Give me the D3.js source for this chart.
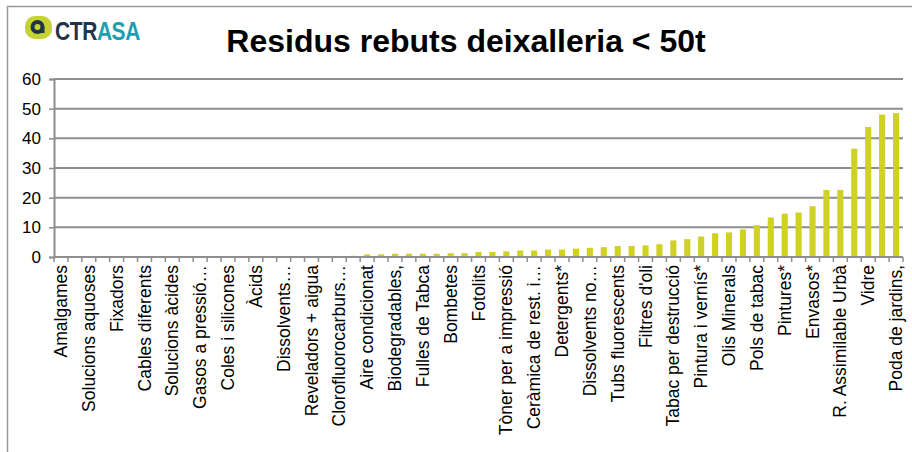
<!DOCTYPE html>
<html>
<head>
<meta charset="utf-8">
<script src="https://cdn.jsdelivr.net/npm/d3@7"></script>
<style>
  body { margin: 0; background: #fff; }
  svg { display: block; font-family: "Liberation Sans", Arial, sans-serif; }
</style>
</head>
<body>
<svg id="chart" width="912" height="452"></svg>
<script>
// === Data ===
var title = "Residus rebuts deixalleria < 50t";

// every second category gets a visible label (like the original)
var labels = [
    "Amalgames", "", "Solucions aquoses", "", "Fixadors", "", "Cables diferents", "",
    "Solucions àcides", "", "Gasos a pressió…", "", "Coles i silicones", "", "Àcids", "",
    "Dissolvents…", "", "Reveladors + aigua", "", "Clorofluorocarburs…", "", "Aire condicionat", "",
    "Biodegradables,", "", "Fulles de Tabca", "", "Bombetes", "", "Fotolits", "",
    "Tòner per a impressió", "", "Ceràmica de rest. i…", "", "Detergents*", "", "Dissolvents no…", "",
    "Tubs fluorescents", "", "Filtres d'oli", "", "Tabac per destrucció", "", "Pintura i vernís*", "",
    "Olis Minerals", "", "Pols de tabac", "", "Pintures*", "", "Envasos*", "",
    "R. Assimilable Urbà", "", "Vidre", "", "Poda de jardins,"
];

var values = [
    0, 0, 0, 0, 0, 0, 0, 0, 0, 0,
    0, 0, 0, 0, 0, 0, 0, 0, 0.2, 0.2,
    0.3, 0.4, 0.9, 0.9, 1.1, 1.1, 1.1, 1.1, 1.3, 1.3,
    1.7, 1.7, 1.9, 2.2, 2.2, 2.5, 2.5, 2.8, 3.1, 3.3,
    3.7, 3.7, 3.9, 4.3, 5.6, 6.0, 6.9, 8.0, 8.3, 9.3,
    10.7, 13.3, 14.6, 15.0, 17.1, 22.6, 22.6, 36.5, 43.8, 48.0,
    48.5
];

var yTicks = [0, 10, 20, 30, 40, 50, 60];

// === Layout ===
var svg = d3.select("#chart");
var plotLeft = 54, plotRight = 903, plotTop = 79, plotBottom = 257;

var x = d3.scaleBand()
    .domain(d3.range(values.length))
    .range([plotLeft, plotRight])
    .paddingInner(0.56)
    .paddingOuter(0.28);

var y = d3.scaleLinear().domain([0, 60]).range([plotBottom, plotTop]);

var gridColor = "#8e8e8e";

// frame (only top/left edges show in the original)
svg.append("line").attr("x1", 7).attr("x2", 912).attr("y1", 6.5).attr("y2", 6.5)
    .attr("stroke", "#9a9a9a").attr("stroke-width", 1.5);
svg.append("line").attr("x1", 7.5).attr("x2", 7.5).attr("y1", 6).attr("y2", 452)
    .attr("stroke", "#9a9a9a").attr("stroke-width", 1.5);

// === Logo ===
var logo = svg.append("g");
logo.append("rect").attr("x", 25).attr("y", 16).attr("width", 27).attr("height", 23)
    .attr("rx", 10).attr("fill", "#c5d230");
logo.append("circle").attr("cx", 37.5).attr("cy", 27).attr("r", 5)
    .attr("fill", "none").attr("stroke", "#1e3547").attr("stroke-width", 4);
logo.append("rect").attr("x", 40.5).attr("y", 27).attr("width", 4).attr("height", 6)
    .attr("fill", "#1e3547");
var logoText = logo.append("text")
    .attr("transform", "translate(55,40) scale(0.84,1)")
    .attr("font-size", 25).attr("font-weight", "bold").attr("letter-spacing", -0.5);
logoText.append("tspan").attr("fill", "#1f3448").text("CTR");
logoText.append("tspan").attr("fill", "#1d9fb2").text("ASA");

// === Title ===
svg.append("text")
    .attr("x", 466).attr("y", 52)
    .attr("text-anchor", "middle")
    .attr("font-size", 32).attr("font-weight", "bold")
    .attr("fill", "#000")
    .text(title);

// === Gridlines ===
svg.append("g").selectAll("line")
    .data(yTicks.filter(function (d) { return d > 0; }))
    .enter().append("line")
    .attr("x1", plotLeft).attr("x2", plotRight)
    .attr("y1", function (d) { return y(d); })
    .attr("y2", function (d) { return y(d); })
    .attr("stroke", gridColor).attr("stroke-width", 2);

// === Y axis ===
var yAxis = svg.append("g")
    .attr("transform", "translate(" + plotLeft + ",0)")
    .call(d3.axisLeft(y).tickValues(yTicks).tickSize(5).tickPadding(8));
yAxis.select(".domain").attr("stroke", gridColor).attr("stroke-width", 2);
yAxis.selectAll(".tick line").attr("stroke", gridColor).attr("stroke-width", 1.5);
yAxis.selectAll(".tick text")
    .attr("font-size", 17).attr("fill", "#000")
    .attr("font-family", "'Liberation Sans', Arial, sans-serif");

// === Bars ===
svg.append("g").selectAll("rect")
    .data(values)
    .enter().append("rect")
    .attr("x", function (d, i) { return x(i); })
    .attr("width", x.bandwidth())
    .attr("y", function (d) { return y(d); })
    .attr("height", function (d) { return plotBottom - y(d); })
    .attr("fill", "#cfd222");

// === X axis ===
var step = x.step();
var xg = svg.append("g");
xg.append("line").attr("x1", plotLeft).attr("x2", plotRight)
    .attr("y1", plotBottom).attr("y2", plotBottom)
    .attr("stroke", gridColor).attr("stroke-width", 2);
xg.selectAll(".xt")
    .data(d3.range(values.length + 1))
    .enter().append("line")
    .attr("class", "xt")
    .attr("x1", function (i) { return plotLeft + i * step; })
    .attr("x2", function (i) { return plotLeft + i * step; })
    .attr("y1", plotBottom).attr("y2", plotBottom + 5)
    .attr("stroke", gridColor).attr("stroke-width", 1.5);

xg.selectAll(".xl")
    .data(labels)
    .enter().append("text")
    .attr("class", "xl")
    .attr("transform", function (d, i) {
        return "translate(" + (x(i) + x.bandwidth() / 2) + "," + (plotBottom + 8) + ") rotate(-90)";
    })
    .attr("text-anchor", "end")
    .attr("dy", "0.35em")
    .attr("font-size", 17.5)
    .attr("fill", "#000")
    .text(function (d) { return d; });
</script>
</body>
</html>
